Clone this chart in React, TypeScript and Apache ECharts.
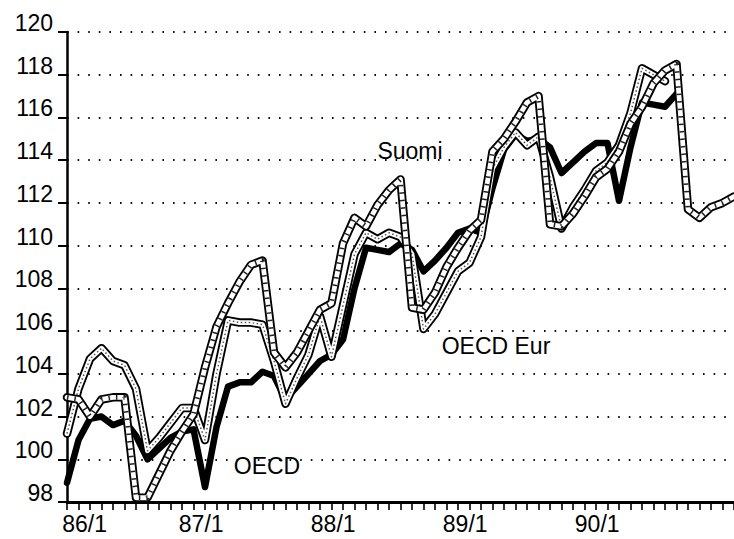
import React, { useEffect, useRef } from "react";
import * as echarts from "echarts";

const years = ["86", "87", "88", "89", "90"];
const monthNums = [1, 2, 3, 4, 5, 6, 7, 8, 9, 10, 11, 12];
const categories = years.flatMap((y) => monthNums.map((m) => `${y}/${m}`)).slice(0, 59);
const yearLabels = ["86/1", "87/1", "88/1", "89/1", "90/1"];
// positions (in label-axis units) where the printed year labels sit
const yearLabelPos = [1.6, 12.2, 24.2, 36.2, 48.2];

const yTicks = [98, 100, 102, 104, 106, 108, 110, 112, 114, 116, 118, 120];

const oecd = [
  98.9, 100.9, 101.9, 102.0, 101.6, 101.8, 101.1, 100.0, 100.5, 101.0, 101.3, 101.4,
  98.7, 101.5, 103.4, 103.6, 103.6, 104.1, 103.9, 102.8, 103.4, 104.0, 104.6, 104.9,
  105.6, 108.0, 109.9, 109.8, 109.7, 110.1, 109.8, 108.8, 109.3, 109.9, 110.6, 110.8,
  110.6, 112.7, 114.5, 115.2, 114.9, 115.0, 114.6, 113.4, 113.9, 114.4, 114.8, 114.8,
  112.1, 114.6, 116.7, 116.6, 116.5, 117.1, null, null, null, null, null,
];

const oecdEur = [
  101.2, 103.3, 104.7, 105.2, 104.6, 104.4, 103.3, 100.4, 101.0, 101.7, 102.4, 102.4,
  100.9, 104.0, 106.5, 106.4, 106.4, 106.3, 104.6, 102.6, 103.8, 104.9, 106.7, 104.8,
  107.2, 109.6, 110.6, 110.3, 110.6, 110.4, 109.6, 106.1, 106.8, 107.8, 108.8, 109.2,
  110.4, 113.6, 114.6, 115.3, 114.7, 115.1, 113.2, 110.8, 111.8, 112.6, 113.5, 113.9,
  114.7, 116.2, 118.3, 118.0, 117.7, null, null, null, null, null, null,
];

const suomi = [
  102.9, 102.8, 102.0, 102.8, 102.9, 102.9, 98.2, 98.2, 99.3, 100.4, 101.3, 102.1,
  104.3, 106.2, 107.3, 108.3, 109.1, 109.3, 105.0, 104.3, 105.0, 106.0, 107.0, 107.3,
  110.1, 111.3, 110.9, 111.9, 112.6, 113.1, 107.1, 107.0, 107.8, 109.0, 109.9, 110.7,
  111.2, 114.4, 115.0, 115.8, 116.7, 117.0, 111.0, 110.9, 111.5, 112.3, 113.2, 113.6,
  114.4, 115.7, 116.5, 117.6, 118.2, 118.5, 111.7, 111.3, 111.8, 112.0, 112.3,
];

const FONT = '"Liberation Sans", Arial, Helvetica, sans-serif';

function doubleLine(name: string, data: (number | null)[], pattern: any, z: number) {
  const base = {
    type: "line",
    name,
    data,
    symbol: "none",
    silent: true,
    connectNulls: false,
  };
  return [
    { ...base, z, lineStyle: { color: "#000", width: 8.5, join: "round", cap: "round" } },
    { ...base, z: z + 0.1, lineStyle: { color: "#fff", width: 4.8, join: "round", cap: "round" } },
    { ...base, z: z + 0.2, lineStyle: { ...pattern, join: "round", cap: "butt" } },
  ];
}

export default function App() {
  const ref = useRef<HTMLDivElement>(null);
  useEffect(() => {
    if (!ref.current) return;
    const chart = echarts.init(ref.current, undefined, { renderer: "svg" });
    chart.setOption({
      animation: false,
      backgroundColor: "#fff",
      grid: { left: 67, right: 0, top: 32, bottom: 37, containLabel: false, outerBoundsMode: "none" },
      xAxis: [
        {
          type: "category",
          data: categories,
          boundaryGap: false,
          axisLine: { show: true, lineStyle: { color: "#000", width: 3 } },
          axisTick: { show: true, interval: 0, length: 8, lineStyle: { color: "#000", width: 1.6 } },
          axisLabel: { show: false },
          splitLine: { show: false },
        },
        {
          type: "value",
          position: "bottom",
          min: 0,
          max: 667 / 11,
          axisLine: { show: false },
          axisTick: { show: false },
          splitLine: { show: false },
          axisLabel: {
            customValues: yearLabelPos,
            formatter: (v: number) => yearLabels[Math.round(v / 12)],
            color: "#000",
            fontSize: 23,
            fontFamily: FONT,
            margin: 10,
          },
        },
      ],
      yAxis: {
        type: "value",
        min: yTicks[0],
        max: yTicks[yTicks.length - 1],
        interval: 2,
        axisLine: { show: true, lineStyle: { color: "#000", width: 2.5 } },
        axisTick: { show: true, length: 9, lineStyle: { color: "#000", width: 2 } },
        axisLabel: {
          color: "#000",
          fontSize: 23,
          fontFamily: FONT,
          margin: 14,
          verticalAlign: "bottom",
          lineHeight: 18,
        },
        splitLine: { show: true, lineStyle: { color: "#111", width: 2, type: [1.6, 9] } },
      },
      series: [
        {
          type: "line",
          name: "OECD",
          data: oecd,
          symbol: "none",
          silent: true,
          z: 2,
          lineStyle: { color: "#000", width: 6.5, join: "round", cap: "round" },
        },
        ...doubleLine("OECD Eur", oecdEur, { color: "#555", width: 1.5, type: [1.5, 2.5] }, 3),
        ...doubleLine("Suomi", suomi, { color: "#222", width: 4.8, type: [1.5, 6] }, 4),
      ],
      graphic: [
        { type: "text", x: 410, y: 151, style: { text: "Suomi", font: `23px ${FONT}`, fill: "#000", textAlign: "center", textVerticalAlign: "middle" } },
        { type: "text", x: 496, y: 346, style: { text: "OECD Eur", font: `23px ${FONT}`, fill: "#000", textAlign: "center", textVerticalAlign: "middle" } },
        { type: "text", x: 267, y: 466, style: { text: "OECD", font: `23px ${FONT}`, fill: "#000", textAlign: "center", textVerticalAlign: "middle" } },
      ],
    });
    return () => chart.dispose();
  }, []);
  return (
    <div
      ref={ref}
      style={{ position: "fixed", left: 0, top: 0, width: 734, height: 539, background: "#fff" }}
    />
  );
}
